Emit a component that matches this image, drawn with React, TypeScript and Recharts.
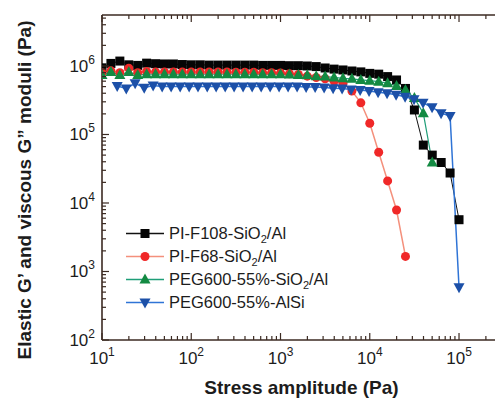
import React from 'react';
import { LineChart, Line, XAxis, YAxis, Legend } from 'recharts';

// Stress amplitude (Pa) for PI-F108, PI-F68 and PEG600-SiO2/Al
const stress = [10, 12.59, 15.85, 19.95, 25.12, 31.62, 39.81, 50.12, 63.1, 79.43, 100, 125.9, 158.5, 199.5, 251.2, 316.2, 398.1, 501.2, 631, 794.3, 1000, 1259, 1585, 1995, 2512, 3162, 3981, 5012, 6310, 7943, 10000, 12590, 15850, 19950, 25120, 31620, 39810, 50120, 63100, 79430, 100000];

// Stress amplitude (Pa) for PEG600-55%-AlSi
const stressAlSi = [14.8, 18.7, 23.5, 29.7, 37.4, 47.2, 59.5, 75.1, 94.7, 119, 151, 190, 240, 302, 381, 481, 607, 765, 964, 1216, 1535, 1936, 2443, 3080, 3884, 4898, 6180, 7800, 9820, 12390, 15630, 19720, 24890, 31330, 39540, 49890, 62950, 79430, 100000];

const piF108 = [9.4e5, 1.09e6, 1.18e6, 1.04e6, 1.02e6, 1.1e6, 1.08e6, 1.07e6, 1.07e6, 1.05e6, 1.04e6, 1.04e6, 1.03e6, 1.03e6, 1.03e6, 1.03e6, 1.03e6, 1.03e6, 1.02e6, 1.02e6, 1.02e6, 1.01e6, 1.01e6, 1.0e6, 9.8e5, 9.35e5, 9.0e5, 8.75e5, 8.45e5, 8.2e5, 7.8e5, 7.6e5, 7.0e5, 6.25e5, 4.7e5, 2.28e5, 7.0e4, 5.0e4, 3.9e4, 2.74e4, 5.7e3];

const piF68 = [8.0e5, 8.5e5, 8.0e5, 9.3e5, 8.0e5, 8.3e5, 8.2e5, 8.2e5, 8.2e5, 8.2e5, 8.2e5, 8.2e5, 8.2e5, 8.2e5, 8.2e5, 8.1e5, 8.1e5, 8.1e5, 8.0e5, 8.0e5, 7.9e5, 7.7e5, 7.5e5, 7.1e5, 6.8e5, 6.5e5, 6.0e5, 5.6e5, 4.3e5, 2.9e5, 1.46e5, 5.5e4, 2.1e4, 7.9e3, 1.66e3];

const pegSiO2 = [7.4e5, 8.2e5, 7.4e5, 8.2e5, 7.4e5, 7.6e5, 7.6e5, 7.6e5, 7.6e5, 7.6e5, 7.6e5, 7.6e5, 7.6e5, 7.6e5, 7.6e5, 7.6e5, 7.6e5, 7.6e5, 7.6e5, 7.6e5, 7.6e5, 7.5e5, 7.4e5, 7.3e5, 7.1e5, 7.0e5, 6.8e5, 6.6e5, 6.5e5, 6.25e5, 6.1e5, 5.9e5, 5.6e5, 5.1e5, 4.46e5, 3.4e5, 2.04e5, 3.9e4];

const pegAlSi = [5.1e5, 4.7e5, 5.6e5, 4.8e5, 5.2e5, 5.0e5, 5.0e5, 5.0e5, 5.0e5, 5.0e5, 5.0e5, 5.0e5, 5.0e5, 5.0e5, 5.0e5, 5.0e5, 5.0e5, 5.0e5, 5.0e5, 5.0e5, 5.0e5, 4.95e5, 4.95e5, 4.85e5, 4.75e5, 4.7e5, 4.55e5, 4.46e5, 4.3e5, 4.15e5, 4.0e5, 3.8e5, 3.56e5, 3.27e5, 2.9e5, 2.5e5, 2.05e5, 1.86e5, 5.9e2];

const seriesNames = ['PI-F108-SiO2/Al', 'PI-F68-SiO2/Al', 'PEG600-55%-SiO2/Al', 'PEG600-55%-AlSi'];

const xTicks = [10, 20, 30, 40, 50, 60, 70, 80, 90, 100, 200, 300, 400, 500, 600, 700, 800, 900, 1000, 2000, 3000, 4000, 5000, 6000, 7000, 8000, 9000, 10000, 20000, 30000, 40000, 50000, 60000, 70000, 80000, 90000, 100000, 200000];
const yTicks = [100, 200, 300, 400, 500, 600, 700, 800, 900, 1000, 2000, 3000, 4000, 5000, 6000, 7000, 8000, 9000, 10000, 20000, 30000, 40000, 50000, 60000, 70000, 80000, 90000, 100000, 200000, 300000, 400000, 500000, 600000, 700000, 800000, 900000, 1000000, 2000000, 3000000, 4000000, 5000000];

const FONT = '"Liberation Sans", Arial, sans-serif';
const AX = '#3b2a22';
const TXT = '#1c1c1c';

const toPoints = (xs: number[], ys: number[]) => ys.map((y, i) => ({ x: xs[i], y }));

const isMajor = (v: number) => Math.abs(Math.log10(v) - Math.round(Math.log10(v))) < 1e-6;

const BottomTick = (props: any) => {
  const { x, y, payload } = props;
  const v = payload.value;
  const major = isMajor(v);
  return (
    <g>
      <line x1={x} x2={x} y1={y} y2={y - (major ? 7 : 4)} stroke={AX} strokeWidth={1.2} />
      {major && (
        <text x={x} y={y + 23.5} textAnchor="middle" fontSize={17} fill={TXT} fontFamily={FONT}>
          10<tspan dy={-8} fontSize={12}>{Math.round(Math.log10(v))}</tspan>
        </text>
      )}
    </g>
  );
};

const TopTick = (props: any) => {
  const { x, y, payload } = props;
  const major = isMajor(payload.value);
  return <line x1={x} x2={x} y1={y} y2={y + (major ? 7 : 4)} stroke={AX} strokeWidth={1.2} />;
};

const LeftTick = (props: any) => {
  const { x, y, payload } = props;
  const v = payload.value;
  const major = isMajor(v);
  return (
    <g>
      <line x1={x} x2={x + (major ? 7 : 4)} y1={y} y2={y} stroke={AX} strokeWidth={1.2} />
      {major && (
        <text x={x - 7} y={y + 6} textAnchor="end" fontSize={17} fill={TXT} fontFamily={FONT}>
          10<tspan dy={-8} fontSize={12}>{Math.round(Math.log10(v))}</tspan>
        </text>
      )}
    </g>
  );
};

type Shape = 'square' | 'circle' | 'up' | 'down';

const marker = (shape: Shape, cx: number, cy: number, fill: string, key?: string) => {
  if (shape === 'square') return <rect key={key} x={cx - 4.5} y={cy - 4.5} width={9} height={9} fill={fill} />;
  if (shape === 'circle') return <circle key={key} cx={cx} cy={cy} r={4.5} fill={fill} />;
  if (shape === 'up')
    return <polygon key={key} points={`${cx},${cy - 6} ${cx - 5.5},${cy + 4} ${cx + 5.5},${cy + 4}`} fill={fill} />;
  return <polygon key={key} points={`${cx},${cy + 6} ${cx - 5.5},${cy - 4} ${cx + 5.5},${cy - 4}`} fill={fill} />;
};

const styles: { shape: Shape; fill: string; line: string; width: number }[] = [
  { shape: 'square', fill: '#050505', line: '#111111', width: 1 },
  { shape: 'circle', fill: '#f02828', line: '#f4907c', width: 1.5 },
  { shape: 'up', fill: '#138a42', line: '#1f9e78', width: 1.2 },
  { shape: 'down', fill: '#1c50a8', line: '#2f74d6', width: 1.5 },
];

const renderName = (n: string) => {
  const parts = n.split('SiO2');
  if (parts.length < 2) return n;
  return (
    <>
      {parts[0]}SiO
      <sub style={{ fontSize: 11, verticalAlign: '-4px', lineHeight: 0 }}>2</sub>
      {parts[1]}
    </>
  );
};

const renderLegend = () => (
  <div style={{ fontFamily: FONT, fontSize: 16.5, color: TXT }}>
    {seriesNames.map((n, i) => (
      <div key={n} style={{ display: 'flex', alignItems: 'center', height: 23 }}>
        <svg width={45} height={23} style={{ display: 'block' }}>
          <line x1={4} x2={42} y1={11.5} y2={11.5} stroke={styles[i].line} strokeWidth={1.3} />
          {marker(styles[i].shape, 23, 11.5, styles[i].fill)}
        </svg>
        <span style={{ marginLeft: 2, whiteSpace: 'nowrap', lineHeight: '23px' }}>{renderName(n)}</span>
      </div>
    ))}
  </div>
);

const makeDot = (i: number) => (p: any) => marker(styles[i].shape, p.cx, p.cy, styles[i].fill, `d${i}-${p.index}`);

const yLabel = (p: any) => {
  const vb = p.viewBox;
  const cx = vb.x + 31;
  const cy = vb.y + vb.height / 2 + 12.5;
  return (
    <text x={cx} y={cy} transform={`rotate(-90 ${cx} ${cy})`} textAnchor="middle" fontSize={19} fontWeight="bold" fill={TXT} fontFamily={FONT}>
      Elastic G’ and viscous G” moduli (Pa)
    </text>
  );
};

const xLabel = (p: any) => {
  const vb = p.viewBox;
  return (
    <text x={vb.x + vb.width / 2 + 3} y={vb.y + 54} textAnchor="middle" fontSize={19} fontWeight="bold" fill={TXT} fontFamily={FONT}>
      Stress amplitude (Pa)
    </text>
  );
};

const seriesData = [
  toPoints(stress, piF108),
  toPoints(stress, piF68),
  toPoints(stress, pegSiO2),
  toPoints(stressAlSi, pegAlSi),
];

export default function App() {
  return (
    <div style={{ position: 'absolute', left: 0, top: 0, width: 495, height: 401, background: '#fff' }}>
      <LineChart width={495} height={401} margin={{ top: 0, right: 0, bottom: 0, left: 0 }}>
        <XAxis
          dataKey="x"
          type="number"
          scale="log"
          domain={[10, 253000]}
          allowDataOverflow
          ticks={xTicks}
          interval={0}
          height={61}
          tickSize={0}
          tickMargin={0}
          tickLine={false}
          tick={<BottomTick />}
          axisLine={{ stroke: AX, strokeWidth: 1.6 }}
          label={xLabel}
        />
        <XAxis
          xAxisId="top"
          orientation="top"
          dataKey="x"
          type="number"
          scale="log"
          domain={[10, 253000]}
          allowDataOverflow
          ticks={xTicks}
          interval={0}
          height={15}
          tickSize={0}
          tickMargin={0}
          tickLine={false}
          tick={<TopTick />}
          axisLine={{ stroke: AX, strokeWidth: 1.6 }}
        />
        <YAxis
          dataKey="y"
          type="number"
          scale="log"
          domain={[100, 5550000]}
          allowDataOverflow
          ticks={yTicks}
          interval={0}
          width={102}
          tickSize={0}
          tickMargin={0}
          tickLine={false}
          tick={<LeftTick />}
          axisLine={{ stroke: AX, strokeWidth: 1.6 }}
          label={yLabel}
        />
        <Legend
          content={renderLegend}
          layout="vertical"
          align="center"
          verticalAlign="middle"
          wrapperStyle={{ left: 122, top: 221.5, width: 'auto', height: 'auto' }}
        />
        {seriesData.map((d, i) => (
          <Line
            key={seriesNames[i]}
            data={d}
            dataKey="y"
            name={seriesNames[i]}
            type="linear"
            stroke={styles[i].line}
            strokeWidth={styles[i].width}
            dot={makeDot(i)}
            activeDot={false}
            isAnimationActive={false}
          />
        ))}
      </LineChart>
    </div>
  );
}
